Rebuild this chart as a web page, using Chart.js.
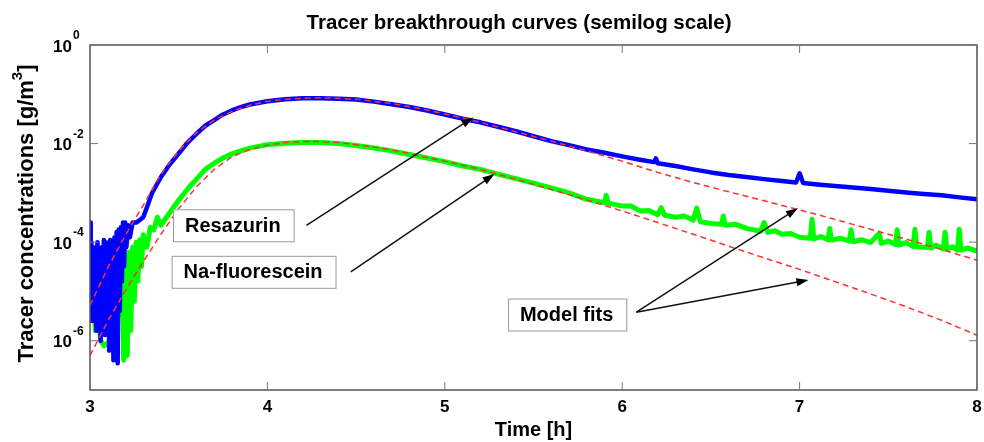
<!DOCTYPE html>
<html>
<head>
<meta charset="utf-8">
<title>Tracer breakthrough curves</title>
<script src="https://cdn.jsdelivr.net/npm/chart.js@4.4.1/dist/chart.umd.min.js"></script>
<style>
  html, body { margin: 0; padding: 0; background: #fff; }
</style>
</head>
<body>
<canvas id="chart" width="984" height="442"></canvas>
<script>
"use strict";

// measured resazurin (blue)
const resTime = [
  3.000, 3.004, 3.008, 3.012, 3.018, 3.024, 3.030, 3.036, 3.042, 3.048,
  3.054, 3.060, 3.066, 3.072, 3.078, 3.084, 3.090, 3.096, 3.102, 3.108,
  3.114, 3.120, 3.126, 3.132, 3.138, 3.144, 3.150, 3.156, 3.162, 3.168,
  3.174, 3.180, 3.186, 3.192, 3.198, 3.205, 3.215, 3.225, 3.240, 3.260,
  3.280, 3.300, 3.320, 3.350, 3.400, 3.450, 3.500, 3.550, 3.600, 3.650,
  3.700, 3.750, 3.800, 3.850, 3.900, 4.000, 4.100, 4.200, 4.300, 4.400,
  4.500, 4.600, 4.700, 4.800, 4.900, 5.000, 5.100, 5.200, 5.300, 5.400,
  5.500, 5.600, 5.700, 5.800, 5.900, 6.000, 6.100, 6.180, 6.190, 6.200,
  6.300, 6.400, 6.500, 6.600, 6.700, 6.800, 6.900, 6.980, 7.000, 7.020,
  7.100, 7.200, 7.300, 7.400, 7.500, 7.600, 7.700, 7.800, 7.900, 8.000
];
const resazurin = [
  2.5e-4, 4.0e-6, 1.0e-4, 2.5e-6, 6.3e-5, 6.3e-6, 7.9e-5, 1.6e-6, 1.0e-4, 1.0e-5,
  6.3e-5, 1.0e-6, 7.9e-5, 3.2e-6, 1.1e-4, 1.3e-6, 1.0e-4, 5.0e-6, 7.9e-5, 6.3e-7,
  1.1e-4, 2.5e-6, 1.0e-4, 4.0e-7, 1.26e-4, 2.0e-6, 1.6e-4, 3.5e-7, 1.8e-4, 4.0e-6,
  2.0e-4, 1.6e-5, 2.5e-4, 3.2e-5, 2.5e-4, 7.9e-5, 2.2e-4, 1.26e-4, 2.5e-4, 2.5e-4,
  2.8e-4, 3.2e-4, 5.0e-4, 1.0e-3, 2.1e-3, 3.8e-3, 6.3e-3, 1.05e-2, 1.58e-2, 2.3e-2,
  3.0e-2, 3.9e-2, 4.7e-2, 5.5e-2, 6.2e-2, 7.2e-2, 7.9e-2, 8.3e-2, 8.3e-2, 8.1e-2,
  7.8e-2, 7.1e-2, 6.3e-2, 5.5e-2, 4.7e-2, 3.9e-2, 3.2e-2, 2.7e-2, 2.2e-2, 1.78e-2,
  1.41e-2, 1.12e-2, 9.3e-3, 7.6e-3, 6.5e-3, 5.5e-3, 4.7e-3, 4.2e-3, 5.0e-3, 4.0e-3,
  3.5e-3, 3.0e-3, 2.6e-3, 2.3e-3, 2.1e-3, 1.9e-3, 1.74e-3, 1.62e-3, 2.5e-3, 1.58e-3,
  1.48e-3, 1.38e-3, 1.29e-3, 1.2e-3, 1.1e-3, 1.02e-3, 9.5e-4, 8.9e-4, 8.1e-4, 7.4e-4
];

// measured Na-fluorescein (green)
const fluTime = [
  3.020, 3.030, 3.040, 3.050, 3.060, 3.080, 3.100, 3.120, 3.140, 3.160,
  3.180, 3.190, 3.200, 3.210, 3.220, 3.230, 3.240, 3.250, 3.260, 3.270,
  3.280, 3.290, 3.300, 3.320, 3.340, 3.360, 3.380, 3.400, 3.450, 3.500,
  3.550, 3.600, 3.650, 3.700, 3.750, 3.800, 3.850, 3.900, 4.000, 4.100,
  4.200, 4.300, 4.400, 4.500, 4.600, 4.700, 4.800, 4.900, 5.000, 5.100,
  5.200, 5.300, 5.400, 5.500, 5.600, 5.700, 5.760, 5.800, 5.900, 5.910,
  5.920, 6.000, 6.050, 6.100, 6.150, 6.200, 6.220, 6.240, 6.300, 6.350,
  6.400, 6.420, 6.440, 6.500, 6.560, 6.570, 6.580, 6.640, 6.700, 6.780,
  6.800, 6.820, 6.860, 6.900, 6.950, 7.000, 7.060, 7.070, 7.080, 7.120,
  7.160, 7.170, 7.180, 7.230, 7.280, 7.290, 7.300, 7.350, 7.400, 7.450,
  7.460, 7.500, 7.540, 7.550, 7.560, 7.600, 7.640, 7.650, 7.660, 7.720,
  7.730, 7.740, 7.770, 7.810, 7.820, 7.830, 7.860, 7.890, 7.900, 7.910,
  7.950, 8.000
];
const fluorescein = [
  2.5e-5, 1.6e-6, 5.0e-5, 2.5e-6, 1.0e-6, 7.9e-7, 8.9e-7, 1.26e-6, 1.6e-5, 3.2e-6,
  3.2e-5, 4.0e-7, 5.0e-5, 5.0e-7, 6.3e-5, 1.6e-6, 7.9e-5, 6.3e-6, 1.0e-4, 1.6e-5,
  1.12e-4, 3.2e-5, 1.41e-4, 7.9e-5, 2.0e-4, 1.78e-4, 3.2e-4, 2.2e-4, 4.0e-4, 7.1e-4,
  1.2e-3, 1.9e-3, 3.0e-3, 4.0e-3, 5.1e-3, 6.2e-3, 7.1e-3, 8.1e-3, 9.5e-3, 1.02e-2,
  1.05e-2, 1.05e-2, 1.0e-2, 9.1e-3, 8.1e-3, 7.1e-3, 6.0e-3, 5.1e-3, 4.3e-3, 3.5e-3,
  3.0e-3, 2.4e-3, 1.95e-3, 1.58e-3, 1.26e-3, 1.0e-3, 8.3e-4, 7.4e-4, 6.3e-4, 8.9e-4,
  6.2e-4, 5.4e-4, 5.4e-4, 4.3e-4, 4.4e-4, 3.6e-4, 5.0e-4, 3.5e-4, 3.2e-4, 3.4e-4,
  2.8e-4, 4.9e-4, 2.6e-4, 2.4e-4, 2.3e-4, 3.4e-4, 2.2e-4, 2.3e-4, 1.9e-4, 1.66e-4,
  2.5e-4, 1.58e-4, 1.7e-4, 1.45e-4, 1.5e-4, 1.26e-4, 1.2e-4, 2.9e-4, 1.17e-4, 1.3e-4,
  1.12e-4, 1.9e-4, 1.1e-4, 1.2e-4, 1.05e-4, 1.78e-4, 1.02e-4, 1.12e-4, 9.8e-5, 1.51e-4,
  9.5e-5, 1.05e-4, 8.9e-5, 1.78e-4, 8.7e-5, 9.8e-5, 8.1e-5, 1.82e-4, 8.1e-5, 7.8e-5,
  1.58e-4, 7.6e-5, 8.7e-5, 7.2e-5, 1.58e-4, 7.2e-5, 8.1e-5, 6.9e-5, 1.82e-4, 6.9e-5,
  7.6e-5, 6.6e-5
];

// model fits (red dashed)
const fitTime = [
  3.0, 3.1, 3.2, 3.3, 3.4, 3.5, 3.6, 3.7, 3.8, 3.9,
  4.0, 4.1, 4.2, 4.3, 4.4, 4.5, 4.6, 4.7, 4.8, 4.9,
  5.0, 5.2, 5.4, 5.6, 5.8, 6.0, 6.2, 6.4, 6.6, 6.8,
  7.0, 7.2, 7.4, 7.6, 7.8, 8.0
];
const fitResazurin = [
  5.2e-6, 3.0e-5, 1.4e-4, 5.6e-4, 2.4e-3, 7.1e-3, 1.66e-2, 3.0e-2, 4.5e-2, 6.0e-2,
  7.2e-2, 7.9e-2, 8.3e-2, 8.5e-2, 8.3e-2, 7.9e-2, 7.2e-2, 6.5e-2, 5.6e-2, 4.8e-2,
  4.0e-2, 2.7e-2, 1.74e-2, 1.12e-2, 7.1e-3, 4.4e-3, 2.6e-3, 1.62e-3, 1.05e-3, 6.9e-4,
  4.5e-4, 2.9e-4, 1.82e-4, 1.15e-4, 7.1e-5, 4.3e-5
];
const fitFluorescein = [
  5.0e-7, 2.5e-6, 1.05e-5, 4.0e-5, 1.45e-4, 4.8e-4, 1.32e-3, 3.0e-3, 5.4e-3, 7.6e-3,
  9.3e-3, 1.05e-2, 1.1e-2, 1.1e-2, 1.05e-2, 9.5e-3, 8.5e-3, 7.4e-3, 6.3e-3, 5.2e-3,
  4.4e-3, 3.0e-3, 1.9e-3, 1.17e-3, 7.2e-4, 4.3e-4, 2.5e-4, 1.45e-4, 8.3e-5, 4.8e-5,
  2.8e-5, 1.58e-5, 8.9e-6, 4.9e-6, 2.6e-6, 1.29e-6
];

const xTicks = [3, 4, 5, 6, 7, 8];
const yTicks = [1, 1e-2, 1e-4, 1e-6];

const chartTitle = "Tracer breakthrough curves (semilog scale)";
const xTitle = "Time [h]";

// text boxes with arrows, anchored in data units (time, concentration)
const notes = [
  { text: "Resazurin", x: 3.468, y: 2.2e-4, arrows: [[4.22, 2.2e-4, 5.16, 3.4e-2]] },
  { text: "Na-fluorescein", x: 3.46, y: 2.5e-5, arrows: [[4.47, 2.5e-5, 5.28, 2.4e-3]] },
  { text: "Model fits", x: 5.356, y: 3.4e-6, arrows: [[6.08, 3.8e-6, 6.99, 4.9e-4], [6.08, 3.8e-6, 7.05, 1.7e-5]] },
];

const FONT = '"Liberation Sans", Arial, Helvetica, sans-serif';

function pts(xs, ys) {
  return xs.map((t, i) => ({ x: t, y: ys[i] }));
}

function arrow(ctx, x1, y1, x2, y2) {
  const ang = Math.atan2(y2 - y1, x2 - x1);
  const len = 12, half = 4;
  ctx.beginPath();
  ctx.moveTo(x1, y1);
  ctx.lineTo(x2 - Math.cos(ang) * len * 0.8, y2 - Math.sin(ang) * len * 0.8);
  ctx.stroke();
  ctx.beginPath();
  ctx.moveTo(x2, y2);
  ctx.lineTo(x2 - Math.cos(ang) * len + Math.sin(ang) * half, y2 - Math.sin(ang) * len - Math.cos(ang) * half);
  ctx.lineTo(x2 - Math.cos(ang) * len - Math.sin(ang) * half, y2 - Math.sin(ang) * len + Math.cos(ang) * half);
  ctx.closePath();
  ctx.fill();
}

const frame = {
  id: "frame",
  afterDatasetsDraw(chart) {
    const { ctx, chartArea: a, scales: { x, y } } = chart;
    ctx.save();
    ctx.strokeStyle = "#555";
    ctx.lineWidth = 1.5;
    ctx.strokeRect(a.left, a.top, a.right - a.left, a.bottom - a.top);

    // inward tick marks, matlab style
    ctx.lineWidth = 1;
    ctx.strokeStyle = "#777";
    ctx.beginPath();
    xTicks.forEach((v) => {
      const px = x.getPixelForValue(v);
      ctx.moveTo(px, a.bottom); ctx.lineTo(px, a.bottom - 8);
      ctx.moveTo(px, a.top); ctx.lineTo(px, a.top + 8);
    });
    yTicks.forEach((v) => {
      const py = y.getPixelForValue(v);
      ctx.moveTo(a.left, py); ctx.lineTo(a.left + 8, py);
      ctx.moveTo(a.right, py); ctx.lineTo(a.right - 8, py);
    });
    ctx.stroke();

    // y tick labels as 10^n
    ctx.fillStyle = "#000";
    yTicks.forEach((v) => {
      const py = y.getPixelForValue(v);
      const e = Math.round(Math.log10(v));
      ctx.font = "bold 17px " + FONT;
      ctx.textAlign = "right";
      ctx.textBaseline = "middle";
      ctx.fillText("10", a.left - 18, py + 2);
      ctx.font = "bold 12px " + FONT;
      ctx.textAlign = "left";
      ctx.fillText(e === 0 ? "0" : "-" + (-e), a.left - 17, py - 9);
    });
    ctx.restore();
  },
  afterDraw(chart) {
    const { ctx, chartArea: a, scales: { x, y } } = chart;
    ctx.save();
    ctx.fillStyle = "#000";

    // title
    ctx.font = "bold 20.5px " + FONT;
    ctx.textAlign = "center";
    ctx.textBaseline = "middle";
    ctx.fillText(chartTitle, 519, 23);

    // y axis title with superscript
    ctx.translate(27, (a.top + a.bottom) / 2 - 4);
    ctx.rotate(-Math.PI / 2);
    const main = "Tracer concentrations [g/m";
    ctx.font = "bold 22px " + FONT;
    const w1 = ctx.measureText(main).width;
    const w3 = ctx.measureText("]").width;
    ctx.font = "bold 15px " + FONT;
    const w2 = ctx.measureText("3").width;
    let sx = -(w1 + w2 + w3) / 2;
    ctx.textAlign = "left";
    ctx.font = "bold 22px " + FONT;
    ctx.fillText(main, sx, 0);
    ctx.font = "bold 15px " + FONT;
    ctx.fillText("3", sx + w1, -9);
    ctx.font = "bold 22px " + FONT;
    ctx.fillText("]", sx + w1 + w2, 0);
    ctx.setTransform(1, 0, 0, 1, 0, 0);

    // annotation boxes and arrows
    ctx.font = "bold 20px " + FONT;
    notes.forEach((n) => {
      const px = x.getPixelForValue(n.x);
      const py = y.getPixelForValue(n.y);
      const w = ctx.measureText(n.text).width + 25;
      const h = 32;
      ctx.fillStyle = "#fff";
      ctx.fillRect(px, py - h / 2, w, h);
      ctx.strokeStyle = "#999";
      ctx.lineWidth = 1;
      ctx.strokeRect(px + 0.5, py - h / 2 + 0.5, w, h);
      ctx.fillStyle = "#000";
      ctx.textAlign = "left";
      ctx.fillText(n.text, px + 12, py + 1);
      ctx.strokeStyle = "#111";
      ctx.lineWidth = 1.5;
      n.arrows.forEach((ar) => {
        arrow(ctx,
          x.getPixelForValue(ar[0]), y.getPixelForValue(ar[1]),
          x.getPixelForValue(ar[2]), y.getPixelForValue(ar[3]));
      });
    });
    ctx.restore();
  },
};

const dashed = {
  borderColor: "#ff3030",
  borderWidth: 1.5,
  borderDash: [6, 4],
  pointRadius: 0,
  tension: 0,
};

new Chart(document.getElementById("chart"), {
  type: "line",
  data: {
    datasets: [
      { label: "Resazurin fit", data: pts(fitTime, fitResazurin), ...dashed },
      { label: "Na-fluorescein fit", data: pts(fitTime, fitFluorescein), ...dashed },
      {
        label: "Resazurin",
        data: pts(resTime, resazurin),
        borderColor: "#0000ff",
        borderWidth: 4.5,
        borderJoinStyle: "round",
        pointRadius: 0,
        tension: 0,
      },
      {
        label: "Na-fluorescein",
        data: pts(fluTime, fluorescein),
        borderColor: "#00ff00",
        borderWidth: 5,
        borderJoinStyle: "round",
        pointRadius: 0,
        tension: 0,
      },
    ],
  },
  options: {
    responsive: false,
    animation: false,
    layout: { autoPadding: false, padding: { top: 45, right: 7, bottom: 0, left: 0 } },
    plugins: {
      legend: { display: false },
      tooltip: { enabled: false },
      title: { display: false },
    },
    scales: {
      x: {
        type: "linear",
        min: 3,
        max: 8,
        ticks: {
          stepSize: 1,
          color: "#000",
          padding: 7,
          font: { family: FONT, size: 17, weight: "bold" },
        },
        grid: { display: false, drawTicks: false },
        border: { display: false },
        title: {
          display: true,
          text: xTitle,
          color: "#000",
          padding: { top: 0, bottom: 0 },
          font: { family: FONT, size: 20, weight: "bold" },
        },
        afterFit(s) {
          s.height = 52;
          s.paddingLeft = 0;
          s.paddingRight = 0;
        },
      },
      y: {
        type: "logarithmic",
        min: 1e-7,
        max: 1,
        ticks: { display: false },
        grid: { display: false, drawTicks: false },
        border: { display: false },
        afterFit(s) {
          s.width = 90;
          s.paddingTop = 0;
          s.paddingBottom = 0;
        },
      },
    },
  },
  plugins: [frame],
});
</script>
</body>
</html>
